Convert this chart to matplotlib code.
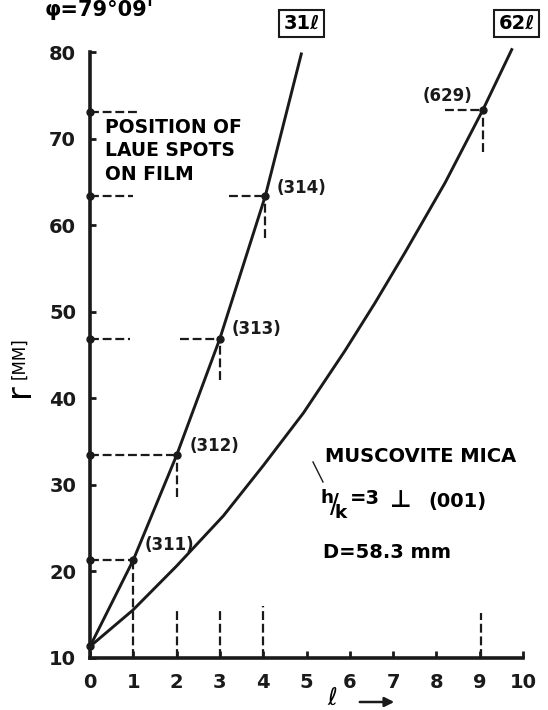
import matplotlib
matplotlib.use("Agg")
import matplotlib.pyplot as plt

# curve 31l
l_31 = [0, 1, 2, 3, 4.05, 4.88]
r_31 = [11.3, 21.3, 33.4, 46.9, 63.4, 79.8]

# curve 62l
l_62 = [0, 0.99, 2.0, 3.08, 4.0, 4.93, 5.89, 6.58, 7.27, 8.2, 9.07, 9.74]
r_62 = [11.3, 15.5, 20.6, 26.4, 32.2, 38.3, 45.5, 51.0, 56.8, 64.9, 73.3, 80.3]

# laue spots
spot_names = ['(311)', '(312)', '(313)', '(314)', '(629)']
spot_l = [1, 2, 3, 4.05, 9.07]
spot_r = [21.3, 33.4, 46.9, 63.4, 73.3]

# spots marked on the film axis (l = 0)
film_r = [11.3, 21.3, 33.4, 46.9, 63.4, 73.1]

# dashed guide lines: (r, l_from, l_to) and (l, r_from, r_to)
h_dash = [(21.3, 0, 1), (33.4, 0, 2), (46.9, 0, 0.93), (46.9, 2.08, 3),
          (63.4, 0, 1.0), (63.4, 3.2, 4.05), (73.1, 0, 1.08), (73.3, 8.2, 9.07)]
v_dash = [(1, 10, 21.3), (2, 28.6, 33.4), (2, 10, 15.4), (3, 42.1, 46.9),
          (3, 10, 15.7), (4.05, 58.5, 63.4), (4, 10, 16.0), (9.07, 68.5, 73.3),
          (9.03, 10, 15.2)]

x_ticks = list(range(0, 11))
y_ticks = list(range(10, 81, 10))

W, H = 548, 710
def px(x, y):
    return x / W, 1 - y / H

plt.rcParams['font.family'] = ['DejaVu Sans']
fig = plt.figure(figsize=(W / 100, H / 100), dpi=100)
ax = fig.add_axes([90 / W, 52.3 / H, 433 / W, 605.5 / H])

# curves
ax.plot(l_31, r_31, color='#1a1a1a', lw=2.1, clip_on=False, zorder=3)
ax.plot(l_62, r_62, color='#1a1a1a', lw=2.1, clip_on=False, zorder=3)

# dashed lines
for r, a, b in h_dash:
    ax.plot([a, b], [r, r], color='#1a1a1a', lw=1.6, dashes=(4, 1.7), clip_on=False)
for l, a, b in v_dash:
    ax.plot([l, l], [a, b], color='#1a1a1a', lw=1.6, dashes=(4, 1.7), clip_on=False)

# dots
ax.plot(spot_l, spot_r, 'o', color='#1a1a1a', ms=5, clip_on=False, zorder=4)
ax.plot([0] * len(film_r), film_r, 'o', color='#1a1a1a', ms=5, clip_on=False, zorder=4)

# spot labels
offs = [(8.5, 10.5), (9.5, 7), (8.5, 6.5), (8, 5.5), (-7.5, 10)]
for name, l, r, (dx, dy) in zip(spot_names, spot_l, spot_r, offs):
    ax.annotate(name, (l, r), xytext=(dx, dy), textcoords='offset points',
                ha='left' if dx > 0 else 'right', va='center',
                fontsize=12, fontweight='bold', color='#1a1a1a')

ax.set_xlim(0, 10)
ax.set_ylim(10, 80)
for s in ['top', 'right']:
    ax.spines[s].set_visible(False)
for s in ['left', 'bottom']:
    ax.spines[s].set_linewidth(2.6)
    ax.spines[s].set_color('#1a1a1a')
ax.set_xticks(x_ticks)
ax.set_yticks(y_ticks)
ax.tick_params(axis='x', direction='in', length=5, width=2, pad=11,
               labelsize=14, colors='#1a1a1a')
ax.tick_params(axis='y', direction='in', length=4, width=2, pad=10,
               labelsize=14, colors='#1a1a1a')
for t in ax.get_xticklabels() + ax.get_yticklabels():
    t.set_fontweight('bold')

# text on the figure
fig.text(*px(45, 10), "φ=79°09'", fontsize=15, fontweight='bold', ha='left', va='center')
fig.text(*px(301.5, 23.5), "31ℓ", fontsize=14, fontweight='bold', ha='center', va='center',
         bbox=dict(boxstyle='square,pad=0.2', fc='white', ec='#1a1a1a', lw=1.5))
fig.text(*px(516.5, 23.5), "62ℓ", fontsize=14, fontweight='bold', ha='center', va='center',
         bbox=dict(boxstyle='square,pad=0.2', fc='white', ec='#1a1a1a', lw=1.5))

fig.text(*px(105, 118), "POSITION OF\nLAUE SPOTS\nON FILM", fontsize=13.5,
         fontweight='bold', ha='left', va='top', linespacing=1.3)

fig.text(*px(325, 457), "MUSCOVITE MICA", fontsize=14, fontweight='bold', ha='left', va='center')
fig.add_artist(plt.Line2D([313 / W, 323 / W], [1 - 462 / H, 1 - 482 / H], color='#1a1a1a', lw=1))
fig.text(*px(320, 503), r"$^{\mathbf{h}}\!/\!_{\mathbf{k}}$", fontsize=19,
         ha='left', va='center')
fig.text(*px(350, 499), "=3", fontsize=14, fontweight='bold', ha='left', va='center')
fig.text(*px(401, 500), "⊥", fontsize=17, fontweight='bold', ha='center', va='center')
fig.text(*px(428, 501), "(001)", fontsize=14, fontweight='bold', ha='left', va='center')
fig.text(*px(323, 552), "D=58.3 mm", fontsize=14, fontweight='bold', ha='left', va='center')

# axis labels
fig.text(*px(20, 390), "r", fontsize=24, rotation=90, ha='center', va='center')
fig.text(*px(19, 358), "[MM]", fontsize=12, rotation=90, ha='center', va='center')
fig.text(*px(332, 698), "ℓ", fontsize=17, style='italic', ha='center', va='center')
fig.add_artist(matplotlib.patches.FancyArrowPatch(
    (357 / W, 1 - 702 / H), (397 / W, 1 - 702 / H), transform=fig.transFigure,
    arrowstyle='-|>', mutation_scale=14, lw=1.8, color='#1a1a1a'))

fig.savefig("out.png", dpi=100, facecolor='white')
